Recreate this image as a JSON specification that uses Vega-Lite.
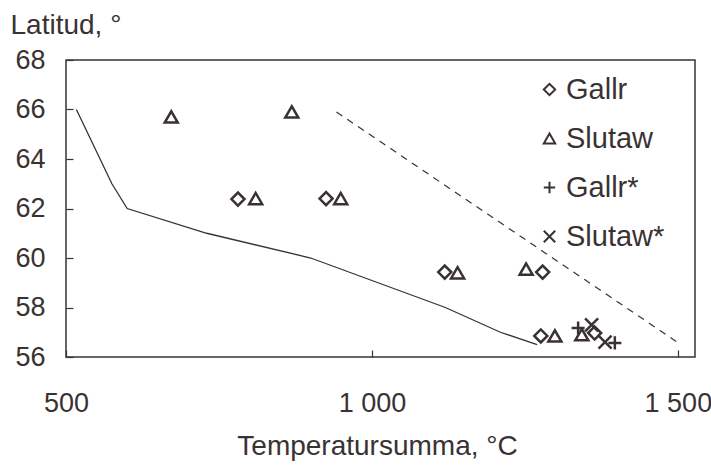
{
  "$schema": "https://vega.github.io/schema/vega-lite/v6.json",
  "width": 629,
  "height": 297,
  "autosize": {"type": "none"},
  "padding": {"left": 66, "top": 60, "right": 16, "bottom": 109},
  "background": "white",
  "config": {
    "view": {"stroke": "#3a3232", "strokeWidth": 1.5},
    "font": "Liberation Sans"
  },
  "datasets": {
    "punkter": [
      {"serie": "Gallr", "t": 781, "lat": 62.38},
      {"serie": "Gallr", "t": 925, "lat": 62.4},
      {"serie": "Gallr", "t": 1119, "lat": 59.43},
      {"serie": "Gallr", "t": 1279, "lat": 59.43},
      {"serie": "Gallr", "t": 1276, "lat": 56.85},
      {"serie": "Gallr", "t": 1364, "lat": 56.97},
      {"serie": "Slutaw", "t": 672, "lat": 65.7},
      {"serie": "Slutaw", "t": 869, "lat": 65.9},
      {"serie": "Slutaw", "t": 810, "lat": 62.4},
      {"serie": "Slutaw", "t": 949, "lat": 62.4},
      {"serie": "Slutaw", "t": 1140, "lat": 59.4},
      {"serie": "Slutaw", "t": 1252, "lat": 59.55},
      {"serie": "Slutaw", "t": 1299, "lat": 56.85},
      {"serie": "Slutaw", "t": 1343, "lat": 56.9},
      {"serie": "Gallr*", "t": 1337, "lat": 57.17},
      {"serie": "Gallr*", "t": 1397, "lat": 56.57},
      {"serie": "Slutaw*", "t": 1359, "lat": 57.3},
      {"serie": "Slutaw*", "t": 1381, "lat": 56.6}
    ],
    "grans": [
      {"t": 517, "lat": 66.0},
      {"t": 575, "lat": 63.0},
      {"t": 600, "lat": 62.0},
      {"t": 730, "lat": 61.0},
      {"t": 900, "lat": 60.0},
      {"t": 1120, "lat": 58.0},
      {"t": 1210, "lat": 57.0},
      {"t": 1270, "lat": 56.5}
    ],
    "streckad": [
      {"t": 942, "lat": 65.9},
      {"t": 1505, "lat": 56.5}
    ]
  },
  "encoding": {
    "x": {
      "field": "t",
      "type": "quantitative",
      "scale": {"domain": [500, 1528], "nice": false, "zero": false},
      "axis": {
        "values": [500, 1000, 1500],
        "labelExpr": "replace(format(datum.value, ','), ',', ' ')",
        "grid": false,
        "domain": false,
        "tickSize": -7,
        "tickColor": "#3a3232",
        "tickWidth": 1.2,
        "labelPadding": 40,
        "labelFont": "Liberation Sans",
        "labelFontSize": 27,
        "labelColor": "#3a3232",
        "labelFlush": false,
        "labelBound": false,
        "labelOverlap": false,
        "title": "Temperatursumma, °C",
        "titleFont": "Liberation Sans",
        "titleFontSize": 28,
        "titleFontWeight": "normal",
        "titleColor": "#3a3232",
        "titleBaseline": "alphabetic",
        "titleAlign": "center",
        "titleX": 311,
        "titleY": 97
      }
    },
    "y": {
      "field": "lat",
      "type": "quantitative",
      "scale": {"domain": [56, 68], "nice": false, "zero": false},
      "axis": {
        "values": [56, 58, 60, 62, 64, 66, 68],
        "grid": false,
        "domain": false,
        "tickSize": -7,
        "tickColor": "#3a3232",
        "tickWidth": 1.2,
        "labelPadding": 28,
        "labelFont": "Liberation Sans",
        "labelFontSize": 27,
        "labelColor": "#3a3232",
        "labelFlush": false,
        "labelBound": false,
        "labelOverlap": false,
        "title": "Latitud, °",
        "titleFont": "Liberation Sans",
        "titleFontSize": 28,
        "titleFontWeight": "normal",
        "titleColor": "#3a3232",
        "titleAngle": 0,
        "titleAlign": "left",
        "titleBaseline": "alphabetic",
        "titleX": -56,
        "titleY": -27
      }
    }
  },
  "layer": [
    {
      "data": {"name": "grans"},
      "mark": {"type": "line", "color": "#3a3232", "strokeWidth": 1.3}
    },
    {
      "data": {"name": "streckad"},
      "mark": {"type": "line", "color": "#3a3232", "strokeWidth": 1.2, "strokeDash": [7, 6]}
    },
    {
      "data": {"name": "punkter"},
      "mark": {"type": "point", "filled": false, "color": "#3a3232", "strokeWidth": 2.5, "size": 170, "opacity": 1},
      "encoding": {
        "shape": {
          "field": "serie",
          "type": "nominal",
          "scale": {
            "domain": ["Gallr", "Slutaw", "Gallr*", "Slutaw*"],
            "range": ["diamond", "triangle-up", "M-1,0L1,0M0,-1L0,1", "M-1,-1L1,1M-1,1L1,-1"]
          },
          "legend": {
            "title": null,
            "orient": "none",
            "legendX": 469,
            "legendY": 15,
            "labelFont": "Liberation Sans",
            "labelFontSize": 29,
            "labelColor": "#3a3232",
            "labelOffset": 2,
            "rowPadding": 19,
            "symbolSize": 130,
            "symbolStrokeWidth": 2,
            "symbolStrokeColor": "#3a3232",
            "symbolFillColor": "transparent",
            "symbolType": "circle"
          }
        }
      }
    }
  ]
}
